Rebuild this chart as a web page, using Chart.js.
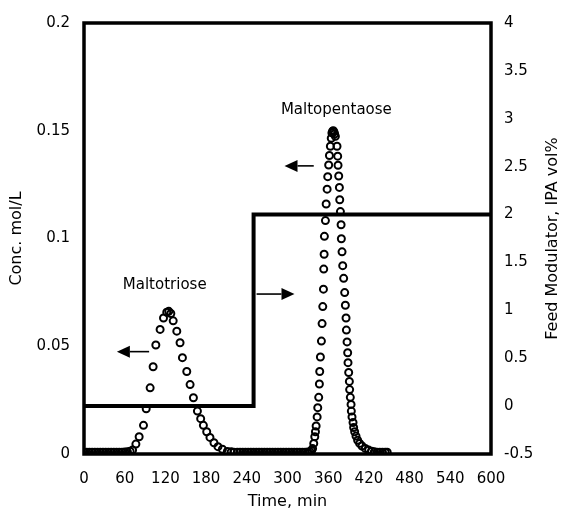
<!DOCTYPE html>
<html>
<head>
<meta charset="utf-8">
<title>Maltotriose / Maltopentaose elution</title>
<script src="https://cdn.jsdelivr.net/npm/chart.js@4.4.1/dist/chart.umd.min.js"></script>
<style>
  html, body { margin: 0; padding: 0; background: #fff; }
</style>
</head>
<body>
<canvas id="chart" width="564" height="509"></canvas>
<script>
// time axis ticks (min)
const timeTicks = ['0', '60', '120', '180', '240', '300', '360', '420', '480', '540', '600'];
const concTicks = ['0', '0.05', '0.1', '0.15', '0.2'];
const modTicks = ['-0.5', '0', '0.5', '1', '1.5', '2', '2.5', '3', '3.5', '4'];

// maltotriose (time min, conc mol/L)
const triTime = [0, 4, 8, 12, 16, 20, 24, 28, 32, 36, 40, 44, 48, 52, 56, 60, 64, 68, 71.6, 76.5,
  81.3, 87.7, 91.7, 97.5, 101.9, 105.9, 112.2, 117.2, 122, 125, 128, 131.5, 136.8, 141.6, 145.1,
  151.5, 156.4, 161.3, 167.2, 172, 176, 180.9, 185.7, 191.6, 197.5, 204, 211.3, 217, 221, 226,
  230, 234, 238, 242, 246, 250, 254, 258, 262, 266, 270, 274, 278, 282, 286, 290, 294, 298];
const triConc = [0.0008, 0.0008, 0.0008, 0.0008, 0.0008, 0.0008, 0.0008, 0.0008, 0.0008, 0.0008,
  0.0008, 0.0008, 0.0008, 0.0008, 0.0008, 0.0009, 0.001, 0.0013, 0.0018, 0.0046,
  0.008, 0.0133, 0.021, 0.0307, 0.0405, 0.0506, 0.0578, 0.0631, 0.0658, 0.0662, 0.0652, 0.0618,
  0.057, 0.0516, 0.0447, 0.0383, 0.0322, 0.0261, 0.0199, 0.0164, 0.0133, 0.0103, 0.0077, 0.0052,
  0.0034, 0.0022, 0.0012, 0.001, 0.0008, 0.0008, 0.0008, 0.0008, 0.0008, 0.0008, 0.0008, 0.0008,
  0.0008, 0.0008, 0.0008, 0.0008, 0.0008, 0.0008, 0.0008, 0.0008, 0.0008, 0.0008, 0.0008, 0.0008];

// maltopentaose
const pentaTime = [302, 306, 310, 314, 318, 322, 326, 330, 333, 335.5, 337, 338.7, 340.2, 341.2,
  342.2, 343.7, 344.6, 346, 347, 347.5, 348.5, 350, 351, 352, 353, 353.4, 354, 354.4, 355.9, 357,
  358.4, 359.3, 360.7, 361.8, 363.2, 364.5, 365.5, 366.5, 367.5, 368.5, 369.5, 370.6, 373, 374,
  374.5, 375.5, 376.5, 377, 378, 379, 379.4, 380.4, 381.4, 382.8, 384.3, 385.3, 386.3, 386.8,
  387.8, 388.7, 389.2, 390.2, 391.2, 391.6, 392.6, 393.7, 394.1, 395.1, 396.6, 397.5, 399, 401,
  403.4, 406.3, 409.8, 414.7, 419.6, 424, 428, 432, 436, 440, 444, 447];
const pentaConc = [0.0008, 0.0008, 0.0008, 0.0008, 0.0008, 0.0008, 0.0008, 0.0009, 0.0011, 0.0016,
  0.0025, 0.0049, 0.008, 0.0103, 0.013, 0.0172, 0.0215, 0.0263, 0.0325, 0.0383, 0.045, 0.0524,
  0.0605, 0.0684, 0.0765, 0.0858, 0.0927, 0.101, 0.1083, 0.116, 0.1229, 0.1287, 0.1341, 0.1385,
  0.1428, 0.1465, 0.149, 0.1498, 0.15, 0.1495, 0.1485, 0.1474, 0.1428, 0.1382, 0.134, 0.129,
  0.1237, 0.118, 0.1125, 0.1064, 0.0999, 0.0938, 0.0874, 0.0815, 0.0749, 0.069, 0.0631, 0.0575,
  0.052, 0.047, 0.0424, 0.0378, 0.0337, 0.0299, 0.0263, 0.023, 0.0199, 0.0172, 0.0146, 0.0123,
  0.0103, 0.0083, 0.0064, 0.0049, 0.0037, 0.0026, 0.0018, 0.0013, 0.001, 0.0008, 0.0008, 0.0008,
  0.0008, 0.0008];

// feed modulator step (IPA vol%), switched at 250 min
const stepTime = [0, 250, 250, 600];
const stepIPA = [0, 0, 2, 2];

const FONT = '"DejaVu Sans", "Liberation Sans", sans-serif';

const toPoints = (xs, ys) => xs.map((x, i) => ({ x: x, y: ys[i] }));

// labels and arrows, in data coordinates
const notes = [
  { text: 'Maltotriose', x: 119, y: 0.0785, axis: 'y' },
  { text: 'Maltopentaose', x: 372, y: 0.1595, axis: 'y' }
];
const arrows = [
  { from: 96, to: 48.5, y: 0.0475, axis: 'y' },
  { from: 254.4, to: 310.3, y: 1.17, axis: 'y1' },
  { from: 338.7, to: 295.6, y: 0.1337, axis: 'y' }
];

const extras = {
  id: 'extras',
  beforeDatasetsDraw(chart) {
    const { ctx, chartArea: a } = chart;
    ctx.save();
    ctx.strokeStyle = '#000';
    ctx.lineWidth = 3.5;
    ctx.strokeRect(a.left, a.top, a.right - a.left, a.bottom - a.top);
    ctx.restore();
  },
  afterDatasetsDraw(chart) {
    const { ctx, scales } = chart;
    ctx.save();
    ctx.fillStyle = '#000';
    ctx.strokeStyle = '#000';
    ctx.font = '15px ' + FONT;
    ctx.textAlign = 'center';
    ctx.textBaseline = 'middle';
    notes.forEach(n => {
      ctx.fillText(n.text, scales.x.getPixelForValue(n.x), scales[n.axis].getPixelForValue(n.y));
    });

    arrows.forEach(ar => {
      const x0 = scales.x.getPixelForValue(ar.from);
      const x1 = scales.x.getPixelForValue(ar.to);
      const yy = scales[ar.axis].getPixelForValue(ar.y);
      const dir = x1 > x0 ? 1 : -1;
      const head = 13;
      ctx.lineWidth = 1.6;
      ctx.beginPath();
      ctx.moveTo(x0, yy);
      ctx.lineTo(x1 - dir * head, yy);
      ctx.stroke();
      ctx.beginPath();
      ctx.moveTo(x1, yy);
      ctx.lineTo(x1 - dir * head, yy - 6);
      ctx.lineTo(x1 - dir * head, yy + 6);
      ctx.closePath();
      ctx.fill();
    });

    // right axis title reads bottom to top
    const a = chart.chartArea;
    ctx.font = '16px ' + FONT;
    ctx.translate(553, (a.top + a.bottom) / 2);
    ctx.rotate(-Math.PI / 2);
    ctx.fillText('Feed Modulator, IPA vol%', 0, 0);
    ctx.restore();
  }
};

const markerStyle = {
  showLine: false,
  pointStyle: 'circle',
  pointRadius: 3.5,
  pointBorderWidth: 2,
  pointBackgroundColor: 'rgba(0,0,0,0)',
  pointBorderColor: '#000',
  yAxisID: 'y'
};

const ctx = document.getElementById('chart').getContext('2d');
new Chart(ctx, {
  type: 'scatter',
  data: {
    datasets: [
      Object.assign({ label: 'Maltotriose', data: toPoints(triTime, triConc) }, markerStyle),
      Object.assign({ label: 'Maltopentaose', data: toPoints(pentaTime, pentaConc) }, markerStyle),
      {
        type: 'line',
        label: 'Feed Modulator',
        data: toPoints(stepTime, stepIPA),
        yAxisID: 'y1',
        borderColor: '#000',
        borderWidth: 4,
        borderJoinStyle: 'miter',
        tension: 0,
        pointRadius: 0,
        fill: false
      }
    ]
  },
  options: {
    responsive: false,
    animation: false,
    layout: { padding: { top: 19, left: 0, right: 0, bottom: 0 } },
    plugins: {
      legend: { display: false },
      tooltip: { enabled: false }
    },
    scales: {
      x: {
        type: 'linear',
        min: 0,
        max: 600,
        afterFit: s => { s.height = 55; },
        afterBuildTicks: s => { s.ticks = timeTicks.map(t => ({ value: +t })); },
        ticks: {
          color: '#000',
          font: { family: FONT, size: 15 },
          padding: 16,
          maxRotation: 0,
          callback: (v, i) => timeTicks[i]
        },
        grid: { display: false, drawTicks: false },
        border: { display: false },
        title: {
          display: true,
          text: 'Time, min',
          color: '#000',
          font: { family: FONT, size: 16 },
          padding: { top: 0, bottom: -2 }
        }
      },
      y: {
        position: 'left',
        min: 0,
        max: 0.2,
        afterFit: s => { s.width = 84; },
        afterBuildTicks: s => { s.ticks = concTicks.map(t => ({ value: +t })); },
        ticks: {
          color: '#000',
          font: { family: FONT, size: 15 },
          padding: 14,
          callback: (v, i) => concTicks[i]
        },
        grid: { display: false, drawTicks: false },
        border: { display: false },
        title: {
          display: true,
          text: 'Conc. mol/L',
          color: '#000',
          font: { family: FONT, size: 16 },
          padding: { top: 7, bottom: 0 }
        }
      },
      y1: {
        position: 'right',
        min: -0.5,
        max: 4,
        afterFit: s => { s.width = 73; },
        afterBuildTicks: s => { s.ticks = modTicks.map(t => ({ value: +t })); },
        ticks: {
          color: '#000',
          font: { family: FONT, size: 15 },
          padding: 13,
          callback: (v, i) => modTicks[i]
        },
        grid: { display: false, drawTicks: false },
        border: { display: false }
      }
    }
  },
  plugins: [extras]
});
</script>
</body>
</html>
